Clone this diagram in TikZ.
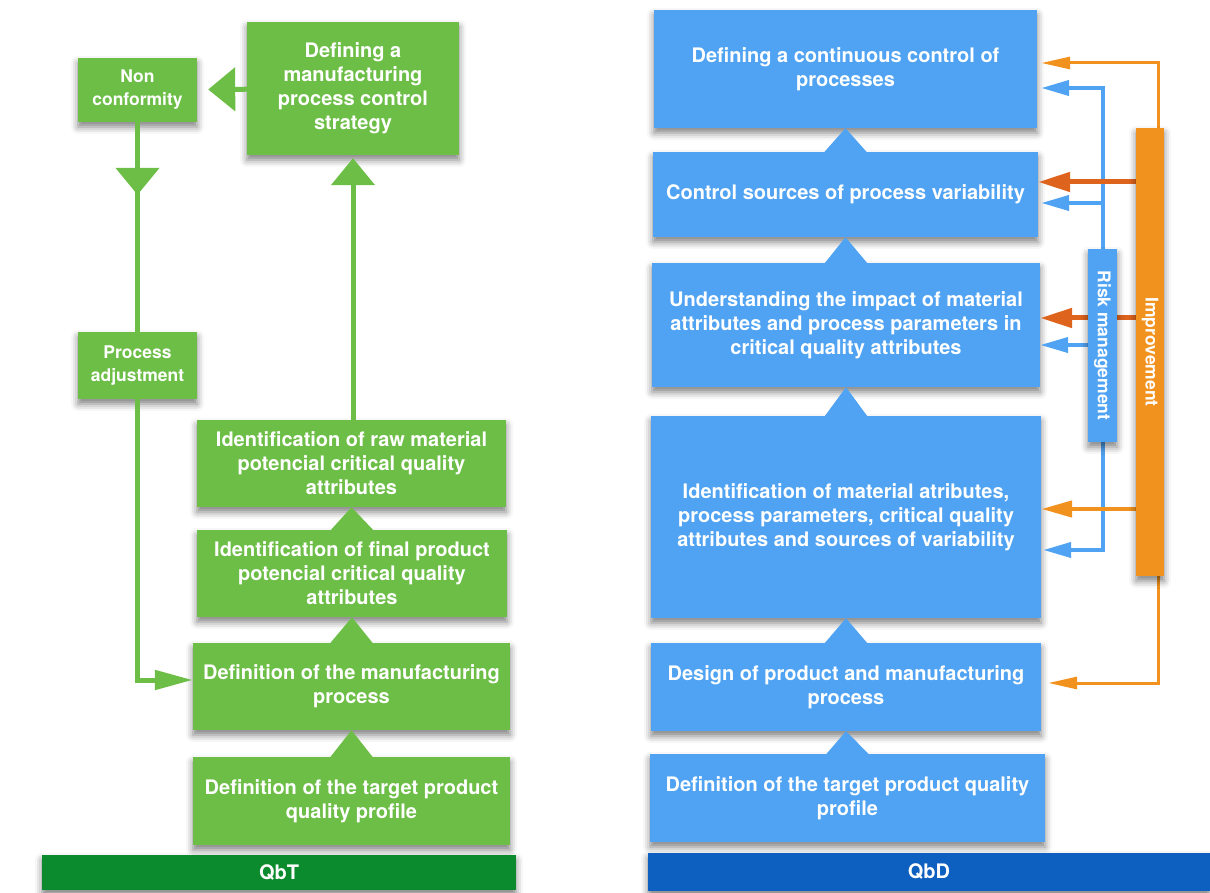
\documentclass[tikz,border=0pt]{standalone}
\usepackage{fontspec}
\setmainfont{TeX Gyre Heros}
\usetikzlibrary{arrows.meta,calc,shadows.blur}
\definecolor{qbtgreen}{RGB}{108,190,70}
\definecolor{qbdblue}{RGB}{80,163,242}
\definecolor{imporange}{RGB}{242,146,30}
\definecolor{darkorange}{RGB}{222,100,30}
\definecolor{qbtbar}{RGB}{12,138,46}
\definecolor{qbdbar}{RGB}{13,95,192}
\begin{document}
\begin{tikzpicture}[x=1pt, y=-1pt,
  txt/.style={text=white, font=\bfseries\fontsize{20}{24}\selectfont, align=center},
  box/.style={rectangle, inner sep=0pt, txt,
    blur shadow={shadow xshift=0pt, shadow yshift=-5pt, shadow opacity=50, shadow blur radius=7pt}},
  gbox/.style={box, fill=qbtgreen},
  bbox/.style={box, fill=qbdblue},
  small/.style={font=\bfseries\fontsize{17.5}{23}\selectfont},
  gline/.style={draw=qbtgreen, line width=5pt},
  bigtip/.style={-{Triangle[length=27pt,width=43pt]}},
  updelta/.style={to path={([xshift=-21pt]\tikztostart) -- ([xshift=21pt]\tikztostart) -- (\tikztotarget) -- cycle}},
  orthin/.style={draw=imporange, line width=3pt, -{Triangle[length=29pt,width=12pt]}},
  orthick/.style={draw=imporange, line width=4.5pt, -{Triangle[length=31pt,width=16pt]}},
  dkor/.style={draw=darkorange, line width=5pt, -{Triangle[length=32pt,width=19pt]}},
  blarrow/.style={draw=qbdblue, line width=4pt, -{Triangle[length=28pt,width=15pt]}},
  barlabel/.style={font=\bfseries\fontsize{20}{24}\selectfont},
]
\useasboundingbox (0,0) rectangle (1210,893);

% ---------- QbT column ----------
\node[gbox, small, minimum width=119pt, minimum height=64pt] (nonconf) at (137.5,90) {Non\\conformity};
\node[gbox, minimum width=212pt, minimum height=133pt] (defstrat) at (353,88.5) {Defining a\\manufacturing\\process control\\strategy};
\node[gbox, small, minimum width=119pt, minimum height=67pt] (procadj) at (137.5,365.5) {Process\\adjustment};
\node[gbox, minimum width=309pt, minimum height=87pt] (rawmat) at (351.5,463.5) {Identification of raw material\\potencial critical quality\\attributes};
\node[gbox, minimum width=310pt, minimum height=87pt] (finprod) at (352,573.5) {Identification of final product\\potencial critical quality\\attributes};
\node[gbox, minimum width=317pt, minimum height=87pt] (defproc) at (351.5,686.5) {Definition of the manufacturing\\process};
\node[gbox, minimum width=317pt, minimum height=88pt] (gtarget) at (351.5,801) {Definition of the target product\\quality profile};
\node[box, fill=qbtbar, barlabel, minimum width=474pt, minimum height=35pt] (qbt) at (279,872.5) {QbT};

\fill[qbtgreen] (finprod.north) to[updelta] (rawmat.south);
\fill[qbtgreen] (defproc.north) to[updelta] (finprod.south);
\fill[qbtgreen] (gtarget.north) to[updelta] (defproc.south);

\draw[gline, bigtip, shorten >=11pt] (defstrat) -- (nonconf);
\draw[gline] (nonconf.south) -- (procadj.north);
\draw[gline, bigtip, shorten >=137pt] (nonconf.south) -- (procadj.north);
\draw[gline, bigtip, shorten >=3pt] (defstrat.south |- rawmat.north) -- (defstrat.south);
\draw[gline, -{Triangle[length=38pt,width=19pt]}] (procadj.south) |- ($(defproc.west)+(0,-6.5)$);

% ---------- QbD column ----------
\node[bbox, minimum width=383pt, minimum height=118pt] (b1) at (845.5,69) {Defining a continuous control of\\processes};
\node[bbox, minimum width=385pt, minimum height=85pt] (b2) at (845.5,194.5) {Control sources of process variability};
\node[bbox, minimum width=388pt, minimum height=124pt] (b3) at (846,325) {Understanding the impact of material\\attributes and process parameters in\\critical quality attributes};
\node[bbox, minimum width=390pt, minimum height=202pt] (b4) at (846,517) {Identification of material atributes,\\process parameters, critical quality\\attributes and sources of variability};
\node[bbox, minimum width=390pt, minimum height=88pt] (b5) at (846,687) {Design of product and manufacturing\\process};
\node[bbox, minimum width=395pt, minimum height=88pt] (b6) at (847.5,798) {Definition of the target product quality\\profile};
\node[box, fill=qbdbar, barlabel, minimum width=562pt, minimum height=38pt] (qbd) at (929,872) {QbD};

\fill[qbdblue] (b2.north) to[updelta] (b1.south);
\fill[qbdblue] (b3.north) to[updelta] (b2.south);
\fill[qbdblue] (b4.north) to[updelta] (b3.south);
\fill[qbdblue] (b5.north) to[updelta] (b4.south);
\fill[qbdblue] (b6.north) to[updelta] (b5.south);

% side bars (placed first so arrows can reference them; redrawn on top later)
\path (1102.5,345.5) node[minimum width=29pt, minimum height=193pt, inner sep=0pt] (risk) {};
\path (1150,352) node[minimum width=28pt, minimum height=448pt, inner sep=0pt] (imp) {};

% risk management arrows
\draw[blarrow, shorten >=4pt] (risk.north) |- ($(b1.east)+(0,19)$);
\draw[blarrow, shorten >=3pt] (risk.north) |- ($(b2.east)+(0,8.5)$);
\draw[blarrow, transform canvas={yshift=-20pt}] (risk.west |- b3.east) -- (b3.east);
\draw[blarrow, shorten >=2pt] (risk.south) |- ($(b4.east)+(0,33)$);

% improvement arrows
\draw[orthin, shorten >=4pt] ([xshift=8pt]imp.north) |- ($(b1.east)+(0,-6)$);
\draw[dkor, transform canvas={yshift=12.5pt}] (imp.west |- b2.east) -- (b2.east);
\draw[dkor, transform canvas={yshift=7pt}] (imp.west |- b3.east) -- (b3.east);
\draw[orthick, transform canvas={yshift=8pt}] (imp.west |- b4.east) -- (b4.east);
\draw[orthin, shorten >=7pt] ([xshift=8pt]imp.south) |- ($(b5.east)+(0,-4)$);

% bars drawn over the arrow lines
\node[box, fill=qbdblue, font=\bfseries\fontsize{17.5}{20}\selectfont, minimum width=29pt, minimum height=193pt] (riskbar) at (risk) {\rotatebox{-90}{Risk management}};
\node[box, fill=imporange, font=\bfseries\fontsize{17.5}{20}\selectfont, minimum width=28pt, minimum height=448pt] (impbar) at (imp) {\rotatebox{-90}{Improvement}};
\end{tikzpicture}
\end{document}
